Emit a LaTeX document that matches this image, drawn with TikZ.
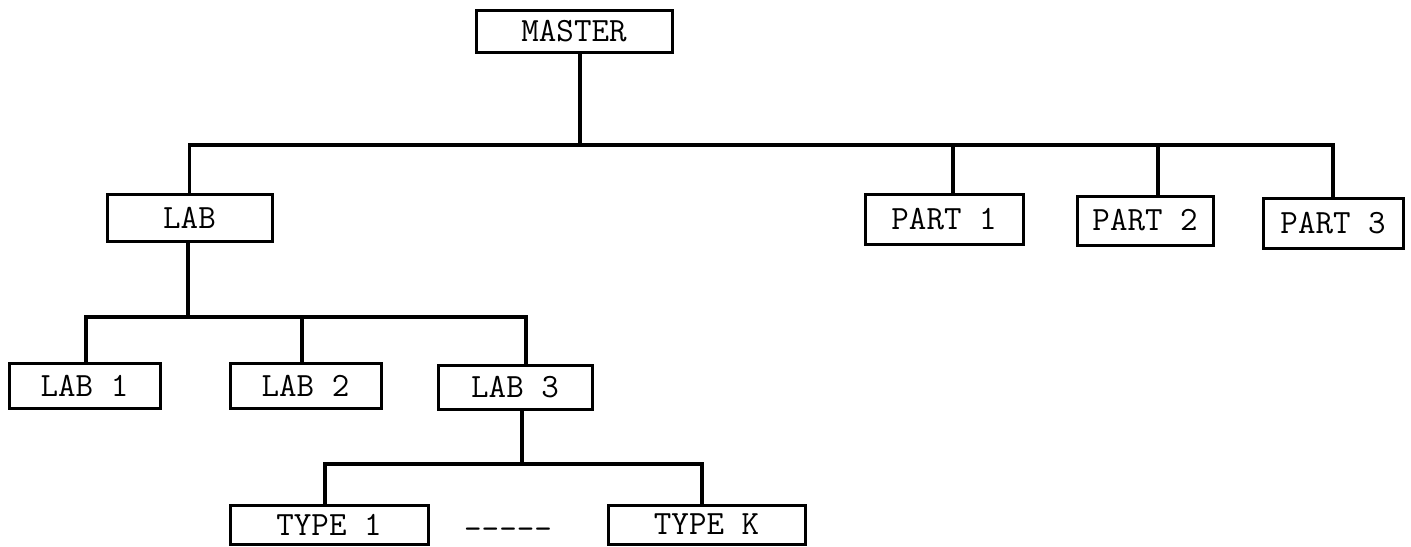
\documentclass[tikz,border=0pt]{standalone}
\usepackage{fontspec}
\begin{document}
\begin{tikzpicture}[x=0.5pt,y=-0.5pt,
  lbl/.style={font=\ttfamily\fontsize{17}{20}\selectfont},
  box/.style={draw,line width=1.5pt,inner sep=0pt,lbl},
  conn/.style={line width=1.6pt}]
\useasboundingbox (0,0) rectangle (1411,546);
% boxes
\node[box,minimum width=98pt,minimum height=21pt] (master) at (574,31) {MASTER};
\node[box,minimum width=82.5pt,minimum height=23.5pt] (lab) at (189.5,217.5) {LAB};
\node[box,minimum width=79pt,minimum height=25pt] (part1) at (944,219) {PART 1};
\node[box,minimum width=68pt,minimum height=24.5pt] (part2) at (1145,220.5) {PART 2};
\node[box,minimum width=70pt,minimum height=25pt] (part3) at (1333,223) {PART 3};
\node[box,minimum width=75.5pt,minimum height=22.5pt] (lab1) at (84.5,385.5) {LAB 1};
\node[box,minimum width=75.5pt,minimum height=22.5pt] (lab2) at (305.5,386) {LAB 2};
\node[box,minimum width=77pt,minimum height=22pt] (lab3) at (515,387) {LAB 3};
\node[box,minimum width=99pt,minimum height=19.5pt] (type1) at (329,524.5) {TYPE 1};
\node[box,minimum width=98.5pt,minimum height=19.5pt] (typek) at (706.5,524.5) {TYPE K};
\node[lbl,inner sep=0pt] (dots) at (508,534) {-----};
% bus coordinates
\coordinate (bus1) at (580,145);
\coordinate (bus2) at (188,317);
\coordinate (bus3) at (522,464);
% connectors
\draw[conn] ([xshift=3pt]master.south) -- (bus1);
\draw[conn] (lab.north) |- (bus1) -| (part3.north);
\draw[conn] ([xshift=4.5pt]part1.north) -- ([xshift=4.5pt]part1.north |- bus1);
\draw[conn] ([xshift=6.5pt]part2.north) -- ([xshift=6.5pt]part2.north |- bus1);
\draw[conn] ([xshift=-0.75pt]lab.south) -- (bus2);
\draw[conn] ([xshift=0.75pt]lab1.north) |- (bus2) -| ([xshift=5.5pt]lab3.north);
\draw[conn] ([xshift=-1.75pt]lab2.north) -- ([xshift=-1.75pt]lab2.north |- bus2);
\draw[conn] ([xshift=3.5pt]lab3.south) -- (bus3);
\draw[conn] ([xshift=-2pt]type1.north) |- (bus3) -| ([xshift=-2.25pt]typek.north);
\end{tikzpicture}
\end{document}
